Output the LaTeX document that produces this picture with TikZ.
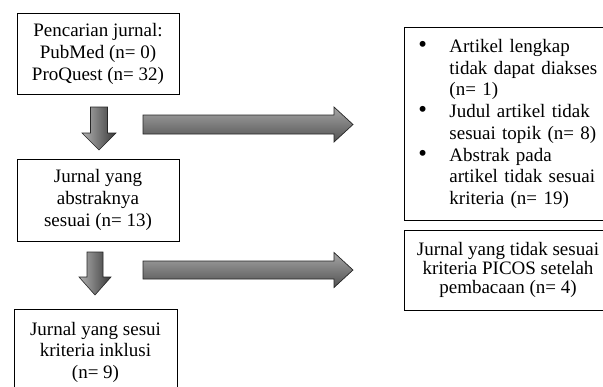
\documentclass[tikz,border=0pt]{standalone}
\usepackage{fontspec}
\setmainfont{Liberation Serif}
\newcommand{\butir}{\makebox[31pt][l]{\scalebox{1.3}{\textbullet}}}
\begin{document}
\begin{tikzpicture}[x=1pt,y=1pt,
	box/.style={draw=black, line width=0.9pt, align=center, inner sep=0pt, font=\fontsize{19}{22}\selectfont},
	vpanah/.style={left color=black!30, right color=black!78, draw=black!85, line width=0.6pt},
	hpanah/.style={top color=black!35, bottom color=black!68, draw=black!85, line width=0.7pt}]
	\useasboundingbox (0,0) rectangle (603,-386);
	\clip (0,0) rectangle (603,-386);
	\node[box, minimum width=162pt, minimum height=81pt] (cari) at (98,-53.5) {Pencarian jurnal:\\PubMed (n= 0)\\ProQuest (n= 32)};
	\node[box, minimum width=162pt, minimum height=82pt] (abstrak) at (98,-200) {Jurnal yang\\abstraknya\\sesuai (n= 13)};
	\node[box, minimum width=163pt, minimum height=86pt, font=\fontsize{19}{21.5}\selectfont] (inklusi) at (95.5,-352) {Jurnal yang sesui\\kriteria inklusi\\(n= 9)};
	\node[box, anchor=north west, align=left, text width=180pt, minimum height=193pt, inner xsep=14pt, font=\fontsize{19}{21.7}\selectfont] (buang) at (404,-27)
	{\butir Artikel lengkap\\\hspace*{31pt}tidak dapat diakses\\\hspace*{31pt}(n= 1)\\
	\butir Judul artikel tidak\\\hspace*{31pt}sesuai topik (n= 8)\\
	\butir Abstrak pada\\\hspace*{31pt}artikel tidak sesuai\\\hspace*{31pt}kriteria (n= 19)};
	\node[box, minimum width=208pt, minimum height=80pt, font=\fontsize{19}{19}\selectfont] (picos) at (508,-270) {Jurnal yang tidak sesuai\\kriteria PICOS setelah\\pembacaan (n= 4)};
	\shade[vpanah] (90.5,-107) -- ++(17,0) -- ++(0,-26) -- ++(8.5,0) -- ++(-17,-17) -- ++(-17,17) -- ++(8.5,0) -- cycle;
	\shade[vpanah] (87,-252) -- ++(16,0) -- ++(0,-25) -- ++(8,0) -- ++(-16,-18) -- ++(-16,18) -- ++(8,0) -- cycle;
	\shade[hpanah] (143,-115) -- ++(191,0) -- ++(0,8) -- ++(19,-17.5) -- ++(-19,-17.5) -- ++(0,8) -- ++(-191,0) -- cycle;
	\shade[hpanah] (143,-261) -- ++(191,0) -- ++(0,8.5) -- ++(19,-17.5) -- ++(-19,-17.5) -- ++(0,8.5) -- ++(-191,0) -- cycle;
\end{tikzpicture}
\end{document}
